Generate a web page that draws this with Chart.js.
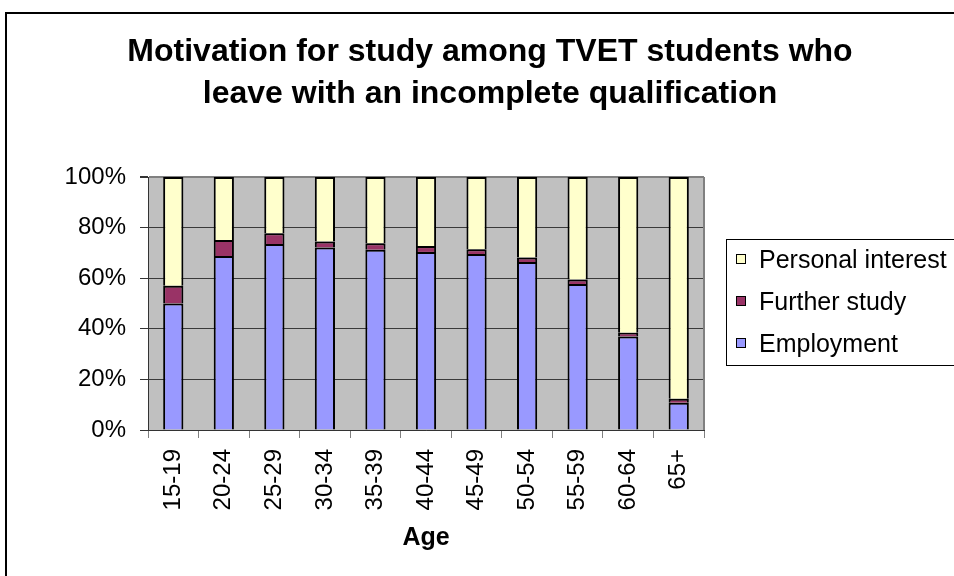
<!DOCTYPE html>
<html>
<head>
<meta charset="utf-8">
<script src="https://cdn.jsdelivr.net/npm/chart.js@4.4.1/dist/chart.umd.min.js"></script>
<style>
  html, body { margin: 0; padding: 0; overflow: hidden; background: #fff; }
  #chart { display: block; }
</style>
</head>
<body>
<canvas id="chart" width="980" height="600"></canvas>
<script>
// Age groups on the x axis
const ageGroups = ["15-19", "20-24", "25-29", "30-34", "35-39", "40-44", "45-49", "50-54", "55-59", "60-64", "65+"];

// Share of students (%) per motivation
const employment       = [50.0, 68.8, 73.5, 72.1, 71.2, 70.4, 69.6, 66.4, 57.7, 37.0, 10.8];
const furtherStudy     = [ 7.0,  6.3,  4.3,  2.4,  2.6,  2.3,  1.8,  1.8,  1.8,  1.4,  1.6];
const personalInterest = [43.0, 24.9, 22.2, 25.5, 26.2, 27.3, 28.6, 31.8, 40.5, 61.6, 87.6];

const yTicks = [0, 20, 40, 60, 80, 100];
const titleLines = ["Motivation for study among TVET students who", "leave with an incomplete qualification"];

Chart.defaults.font.family = "'Liberation Sans', Arial, sans-serif";
Chart.defaults.color = "#000";

// grey plot area + grey right edge like the old Excel look
const plotBackground = {
  id: "plotBackground",
  beforeDraw(chart) {
    const { ctx, chartArea: a } = chart;
    ctx.save();
    ctx.fillStyle = "#C0C0C0";
    ctx.fillRect(a.left, a.top, a.right - a.left, a.bottom - a.top);
    ctx.restore();
  },
  beforeDatasetsDraw(chart) {
    const { ctx, chartArea: a } = chart;
    ctx.save();
    ctx.strokeStyle = "#808080";
    ctx.lineWidth = 2;
    ctx.beginPath();
    ctx.moveTo(a.right, a.top);
    ctx.lineTo(a.right, a.bottom);
    ctx.stroke();
    ctx.restore();
  }
};

// outer chart frame (runs off the right and bottom of the window)
const outerFrame = {
  id: "outerFrame",
  afterDraw(chart) {
    const ctx = chart.ctx;
    ctx.save();
    ctx.strokeStyle = "#000";
    ctx.lineWidth = 2;
    ctx.strokeRect(6, 13, 968, 600);
    ctx.restore();
  }
};

// boxed legend, top item first
const boxLegend = {
  id: "boxLegend",
  afterDraw(chart) {
    const ctx = chart.ctx;
    const items = chart.data.datasets.slice().reverse();
    ctx.save();
    ctx.strokeStyle = "#000";
    ctx.lineWidth = 1;
    ctx.strokeRect(726.5, 239.5, 300, 126);
    ctx.font = "25px 'Liberation Sans', Arial, sans-serif";
    ctx.textBaseline = "alphabetic";
    items.forEach((ds, i) => {
      const base = 268 + i * 42;
      ctx.fillStyle = ds.backgroundColor;
      ctx.fillRect(736.5, base - 13.5, 9, 9);
      ctx.strokeRect(736.5, base - 13.5, 9, 9);
      ctx.fillStyle = "#000";
      ctx.fillText(ds.label, 759, base);
    });
    ctx.restore();
  }
};

const barStyle = { borderColor: "#000", borderWidth: 2, barPercentage: 0.4, categoryPercentage: 1.0 };

new Chart(document.getElementById("chart"), {
  type: "bar",
  data: {
    labels: ageGroups,
    datasets: [
      { label: "Employment", data: employment, backgroundColor: "#9999FF", ...barStyle },
      { label: "Further study", data: furtherStudy, backgroundColor: "#993366", ...barStyle },
      { label: "Personal interest", data: personalInterest, backgroundColor: "#FFFFCC", ...barStyle }
    ]
  },
  options: {
    responsive: false,
    devicePixelRatio: 1,
    animation: false,
    layout: { padding: { left: 6, right: 6, top: 13, bottom: 24 } },
    plugins: {
      legend: { display: false },
      tooltip: { enabled: false },
      title: {
        display: true,
        text: titleLines,
        color: "#000",
        font: { size: 32, weight: "bold", lineHeight: "42px" },
        padding: { top: 18, bottom: 62 }
      }
    },
    scales: {
      x: {
        stacked: true,
        grid: { drawOnChartArea: false, drawTicks: true, tickLength: 8, tickColor: "#808080" },
        border: { display: true, color: "#333", width: 1 },
        ticks: { autoSkip: false, minRotation: 90, maxRotation: 90, padding: 11, color: "#000", font: { size: 24 } },
        title: {
          display: true,
          text: "Age",
          color: "#000",
          font: { size: 25, weight: "bold" },
          padding: { top: 0, bottom: 23 }
        },
        afterFit(scale) { scale.height = 146; }
      },
      y: {
        stacked: true,
        min: 0,
        max: 100,
        afterBuildTicks(scale) { scale.ticks = yTicks.map(v => ({ value: v })); },
        ticks: { padding: 14, color: "#000", font: { size: 24 }, callback: v => v + "%" },
        grid: {
          color: c => (c.tick && c.tick.value === 100 ? "#808080" : "#3a3a3a"),
          lineWidth: c => (c.tick && c.tick.value === 100 ? 2 : 1),
          tickLength: 8,
          tickColor: "#333"
        },
        border: { color: "#333", width: 1 },
        afterFit(scale) { scale.width = 142; }
      },
      spacer: {
        type: "linear",
        position: "right",
        display: true,
        ticks: { display: false },
        grid: { display: false },
        border: { display: false },
        afterFit(scale) { scale.width = 270; }
      }
    }
  },
  plugins: [plotBackground, outerFrame, boxLegend]
});
</script>
</body>
</html>
